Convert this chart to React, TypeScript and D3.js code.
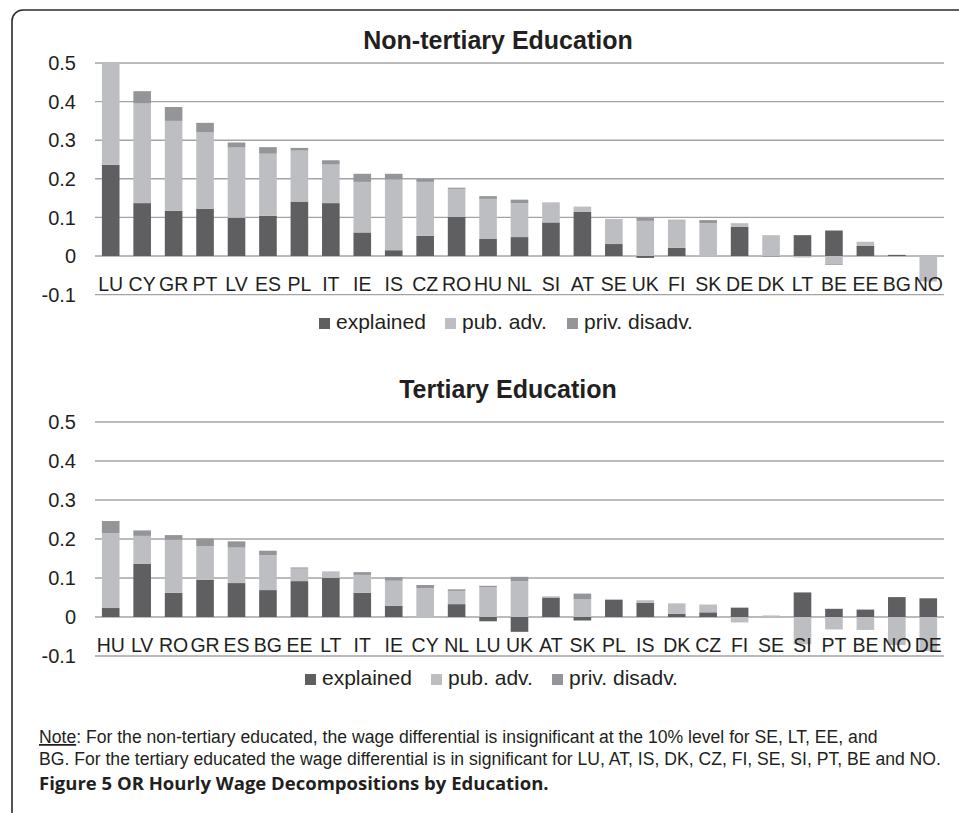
import React, { Component } from "react";
import * as d3 from "d3";

// non-tertiary panel
const countries1 = ["LU", "CY", "GR", "PT", "LV", "ES", "PL", "IT", "IE", "IS", "CZ", "RO", "HU", "NL", "SI", "AT", "SE", "UK", "FI", "SK", "DE", "DK", "LT", "BE", "EE", "BG", "NO"];
const explained1 = [0.236, 0.137, 0.117, 0.122, 0.099, 0.104, 0.141, 0.137, 0.061, 0.015, 0.052, 0.101, 0.044, 0.049, 0.087, 0.115, 0.031, -0.005, 0.021, 0, 0.076, 0, 0.054, 0.066, 0.026, 0.003, 0];
const pubAdv1 = [0.264, 0.258, 0.233, 0.198, 0.182, 0.161, 0.132, 0.1, 0.131, 0.183, 0.14, 0.073, 0.104, 0.088, 0.052, 0.013, 0.065, 0.091, 0.071, 0.085, 0.009, 0.054, -0.004, -0.021, 0.011, 0, -0.066];
const privDisadv1 = [0, 0.032, 0.036, 0.025, 0.013, 0.017, 0.007, 0.011, 0.021, 0.015, 0.008, 0.003, 0.007, 0.009, 0, 0, 0, 0.008, 0.002, 0.008, 0, -0.002, 0, -0.002, 0, 0, 0];

// tertiary panel
const countries2 = ["HU", "LV", "RO", "GR", "ES", "BG", "EE", "LT", "IT", "IE", "CY", "NL", "LU", "UK", "AT", "SK", "PL", "IS", "DK", "CZ", "FI", "SE", "SI", "PT", "BE", "NO", "DE"];
const explained2 = [0.023, 0.136, 0.062, 0.095, 0.087, 0.069, 0.092, 0.1, 0.062, 0.029, 0, 0.033, -0.011, -0.038, 0.05, -0.009, 0.044, 0.036, 0.008, 0.012, 0.024, 0, 0.063, 0.021, 0.019, 0.051, 0.048];
const pubAdv2 = [0.192, 0.072, 0.136, 0.087, 0.091, 0.09, 0.032, 0.017, 0.046, 0.064, 0.074, 0.034, 0.077, 0.092, 0.003, 0.046, 0.002, 0.007, 0.027, 0.02, -0.014, 0.004, -0.07, -0.032, -0.032, -0.072, -0.087];
const privDisadv2 = [0.031, 0.014, 0.012, 0.019, 0.016, 0.011, 0.003, 0, 0.007, 0.009, 0.008, 0.004, 0.003, 0.011, 0, 0.014, 0, 0, 0, 0, 0, 0, 0, 0, -0.001, 0, 0];

const tickValues = [-0.1, 0, 0.1, 0.2, 0.3, 0.4, 0.5];
const tickLabels = ["-0.1", "0", "0.1", "0.2", "0.3", "0.4", "0.5"];
const seriesNames = ["explained", "pub. adv.", "priv. disadv."];
const seriesColors = ["#5f5f61", "#bdbec1", "#949598"];

const FONT = "'Liberation Sans', Arial, sans-serif";

class App extends Component {
  constructor(props) {
    super(props);
    this.svgRef = React.createRef();
  }

  componentDidMount() {
    this.drawChart();
  }

  drawPanel(svg, opts) {
    const { title, titleX, titleY, countries, explained, pub, priv, yTop, yBottom, legendY, legendX } = opts;
    const left = 95;
    const right = 944;

    const rows = countries.map((c, i) => ({ c, explained: explained[i], pub: pub[i], priv: priv[i] }));
    const stack = d3.stack().keys(["explained", "pub", "priv"]).offset(d3.stackOffsetDiverging);
    const layers = stack(rows);

    const x = d3.scaleBand().domain(countries).range([left, right]).paddingInner(0.44).paddingOuter(0.22);
    const y = d3.scaleLinear().domain([-0.1, 0.5]).range([yBottom, yTop]);

    const g = svg.append("g");

    // gridlines
    g.selectAll("line.grid")
      .data(tickValues)
      .enter()
      .append("line")
      .attr("x1", left)
      .attr("x2", right)
      .attr("y1", d => y(d))
      .attr("y2", d => y(d))
      .attr("stroke", "#a4a4a6")
      .attr("stroke-width", 1.4);

    // tick labels
    g.selectAll("text.tick")
      .data(tickValues)
      .enter()
      .append("text")
      .attr("x", 76)
      .attr("y", d => y(d))
      .attr("dy", "0.36em")
      .attr("text-anchor", "end")
      .style("font-family", FONT)
      .style("font-size", "20px")
      .attr("fill", "#231f20")
      .text((d, i) => tickLabels[i]);

    // bars
    layers.forEach((layer, k) => {
      g.append("g")
        .selectAll("rect")
        .data(layer)
        .enter()
        .append("rect")
        .attr("x", d => x(d.data.c))
        .attr("width", x.bandwidth())
        .attr("y", d => y(Math.max(d[0], d[1])))
        .attr("height", d => Math.abs(y(d[0]) - y(d[1])))
        .attr("fill", seriesColors[k]);
    });

    // category labels, low position
    g.selectAll("text.cat")
      .data(countries)
      .enter()
      .append("text")
      .attr("x", d => x(d) + x.bandwidth() / 2)
      .attr("y", y(-0.1) - 4)
      .attr("text-anchor", "middle")
      .style("font-family", FONT)
      .style("font-size", "19.5px")
      .attr("fill", "#231f20")
      .text(d => d);

    // title
    g.append("text")
      .attr("x", titleX)
      .attr("y", titleY)
      .attr("text-anchor", "middle")
      .style("font-family", FONT)
      .style("font-size", "25px")
      .style("font-weight", "bold")
      .attr("fill", "#231f20")
      .text(title);

    // legend
    seriesNames.forEach((name, k) => {
      g.append("rect")
        .attr("x", legendX[k])
        .attr("y", legendY - 11)
        .attr("width", 11)
        .attr("height", 11)
        .attr("fill", seriesColors[k]);
      g.append("text")
        .attr("x", legendX[k] + 17)
        .attr("y", legendY)
        .style("font-family", FONT)
        .style("font-size", "21px")
        .attr("fill", "#231f20")
        .text(name);
    });
  }

  drawChart() {
    const width = 959;
    const height = 813;
    const svg = d3.select(this.svgRef.current).attr("width", width).attr("height", height);
    svg.selectAll("*").remove();

    svg.append("rect").attr("width", width).attr("height", height).attr("fill", "#fff");

    // frame
    svg.append("path")
      .attr("d", "M12,813 L12,21 A11,11 0 0 1 23,10 L959,10")
      .attr("fill", "none")
      .attr("stroke", "#2b2b2b")
      .attr("stroke-width", 1.6);

    this.drawPanel(svg, {
      title: "Non-tertiary Education",
      titleX: 498,
      titleY: 49,
      countries: countries1,
      explained: explained1,
      pub: pubAdv1,
      priv: privDisadv1,
      yTop: 63,
      yBottom: 294.6,
      legendY: 329,
      legendX: [319, 445, 567],
    });

    this.drawPanel(svg, {
      title: "Tertiary Education",
      titleX: 508,
      titleY: 398,
      countries: countries2,
      explained: explained2,
      pub: pubAdv2,
      priv: privDisadv2,
      yTop: 422,
      yBottom: 656,
      legendY: 685,
      legendX: [305, 431, 552],
    });

    // note
    const note1 = svg.append("text")
      .attr("x", 39)
      .attr("y", 743)
      .style("font-family", FONT)
      .style("font-size", "17.6px")
      .attr("fill", "#231f20");
    note1.append("tspan").style("text-decoration", "underline").text("Note");
    note1.append("tspan").text(": For the non-tertiary educated, the wage differential is insignificant at the 10% level for SE, LT, EE, and");

    svg.append("text")
      .attr("x", 39)
      .attr("y", 765)
      .style("font-family", FONT)
      .style("font-size", "17.6px")
      .attr("fill", "#231f20")
      .text("BG. For the tertiary educated the wage differential is in significant for LU, AT, IS, DK, CZ, FI, SE, SI, PT, BE and NO.");

    svg.append("text")
      .attr("x", 39)
      .attr("y", 790)
      .style("font-family", "'Open Sans', Lato, sans-serif")
      .style("font-size", "18.5px")
      .style("font-weight", "bold")
      .attr("fill", "#231f20")
      .text("Figure 5 OR Hourly Wage Decompositions by Education.");
  }

  render() {
    return (
      <svg
        ref={this.svgRef}
        style={{ position: "absolute", left: 0, top: 0, display: "block" }}
      ></svg>
    );
  }
}

export default App;
